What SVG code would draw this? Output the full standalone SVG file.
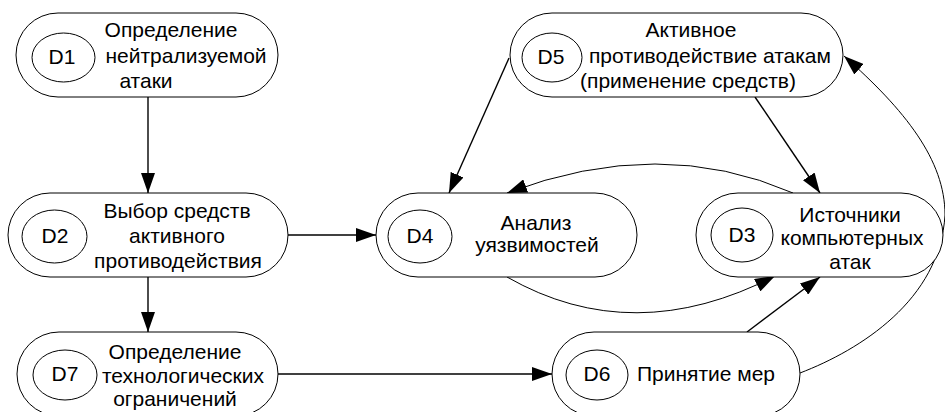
<svg xmlns="http://www.w3.org/2000/svg" width="945" height="412" viewBox="0 0 945 412">
<style>
.box{fill:#fff;stroke:#000;stroke-width:1}
.in{fill:none;stroke:#000;stroke-width:1}
text{font-family:"Liberation Sans",Arial,sans-serif;font-size:21px;fill:#000;text-anchor:middle}
.ln{fill:none;stroke:#000;stroke-width:1.4}
.cv{fill:none;stroke:#000;stroke-width:1}
</style>
<defs>
<marker id="ah" markerUnits="userSpaceOnUse" markerWidth="20" markerHeight="14" refX="20" refY="7" orient="auto">
<path d="M0,0 L20,7 L0,14 z" fill="#000"/>
</marker>
</defs>
<rect width="945" height="412" fill="#fff"/>
<g id="connectors">
<line class="ln" x1="148" y1="97" x2="148" y2="193" marker-end="url(#ah)"/>
<line class="ln" x1="148" y1="277" x2="148" y2="332" marker-end="url(#ah)"/>
<line class="ln" x1="288" y1="235" x2="376" y2="235" marker-end="url(#ah)"/>
<line class="ln" x1="278" y1="374" x2="552" y2="374" marker-end="url(#ah)"/>
<line class="ln" x1="509" y1="58" x2="449" y2="193" marker-end="url(#ah)"/>
<line class="ln" x1="755" y1="97" x2="820" y2="193" marker-end="url(#ah)"/>
<line class="ln" x1="747" y1="332" x2="820" y2="277" marker-end="url(#ah)"/>
<path class="cv" d="M793,193 Q660,135 507,193" marker-end="url(#ah)"/>
<path class="cv" d="M507,277 Q633,349 775,276" marker-end="url(#ah)"/>
<path class="cv" d="M800,373 C860,350 940,300 945,215 C945,160 905,110 844,56" marker-end="url(#ah)"/>
</g>
<g id="D1">
<rect class="box" x="16" y="13" width="262" height="84" rx="42" ry="42"/>
<ellipse class="in" cx="63.5" cy="57.5" rx="31.5" ry="24.5"/>
<text x="62" y="64">D1</text>
<text x="171" y="37">Определение</text>
<text x="186" y="63">нейтрализуемой</text>
<text x="146" y="88">атаки</text>
</g>
<g id="D2">
<rect class="box" x="8" y="193" width="280" height="84" rx="42" ry="42"/>
<ellipse class="in" cx="54.5" cy="236.5" rx="32.5" ry="26.5"/>
<text x="55" y="243">D2</text>
<text x="177" y="218">Выбор средств</text>
<text x="177" y="243">активного</text>
<text x="178" y="268">противодействия</text>
</g>
<g id="D7">
<rect class="box" x="17" y="332" width="261" height="84" rx="42" ry="42"/>
<ellipse class="in" cx="65" cy="375" rx="32" ry="25"/>
<text x="65" y="381">D7</text>
<text x="175" y="359">Определение</text>
<text x="183" y="383">технологических</text>
<text x="175" y="406">ограничений</text>
</g>
<g id="D4">
<rect class="box" x="376" y="193" width="261" height="84" rx="42" ry="42"/>
<ellipse class="in" cx="420" cy="236.5" rx="32" ry="26.5"/>
<text x="420" y="243">D4</text>
<text x="536" y="230">Анализ</text>
<text x="537" y="252">уязвимостей</text>
</g>
<g id="D5">
<rect class="box" x="510" y="13" width="333" height="84" rx="42" ry="42"/>
<ellipse class="in" cx="552" cy="57.5" rx="30" ry="24.5"/>
<text x="551" y="64">D5</text>
<text x="691" y="37">Активное</text>
<text x="710" y="63">противодействие атакам</text>
<text x="688" y="88">(применение средств)</text>
</g>
<g id="D3">
<rect class="box" x="696" y="193" width="247" height="84" rx="42" ry="42"/>
<ellipse class="in" cx="742" cy="235" rx="31" ry="27"/>
<text x="742" y="242">D3</text>
<text x="850" y="222">Источники</text>
<text x="852" y="245">компьютерных</text>
<text x="850" y="269">атак</text>
</g>
<g id="D6">
<rect class="box" x="552" y="332" width="248" height="84" rx="42" ry="42"/>
<ellipse class="in" cx="597" cy="375" rx="31" ry="25"/>
<text x="597" y="381">D6</text>
<text x="706" y="381">Принятие мер</text>
</g>
</svg>
